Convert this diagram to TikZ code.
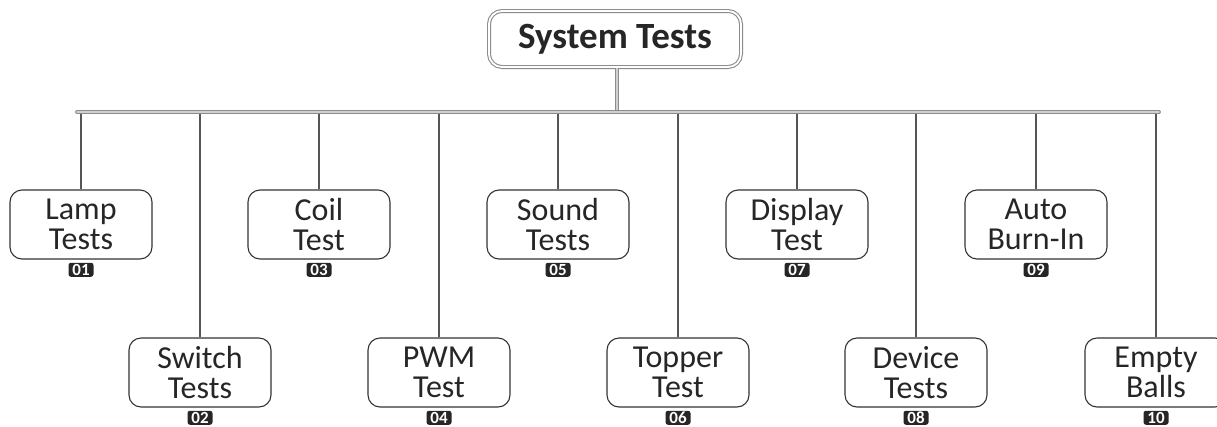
\documentclass[tikz,border=0pt]{standalone}
\usepackage{fontspec}
\setmainfont{Carlito}
\definecolor{boxline}{HTML}{333333}
\definecolor{linkline}{HTML}{555555}
\definecolor{railgray}{HTML}{8C8C8C}
\definecolor{raillight}{HTML}{D0D0D0}
\begin{document}
\begin{tikzpicture}[x=1pt,y=-1pt,
  testbox/.style={draw=boxline, line width=1.1pt, rounded corners=12pt, fill=white,
    minimum width=142pt, minimum height=69pt, inner sep=0pt, align=center,
    text=black!85, font=\fontsize{32}{30}\selectfont},
  badge/.style={fill=black!85, rounded corners=2.5pt, minimum width=25pt, minimum height=14pt,
    inner sep=0pt, text=white, font=\fontsize{17}{17}\selectfont\bfseries},
  headbox/.style={draw=railgray, double=white, line width=1.1pt, double distance=1.8pt,
    rounded corners=13pt, minimum width=252pt, minimum height=56pt, inner sep=0pt,
    text=black!85, font=\fontsize{37}{37}\selectfont\bfseries},
  rail/.style={draw=railgray, double=raillight, line width=1.1pt, double distance=1.6pt, line cap=round},
  link/.style={draw=linkline, line width=1.2pt}]
\useasboundingbox (0,0) rectangle (1217,426);
\clip (0,0) rectangle (1217,426);

% head node
\node[headbox] (head) at (615,39) {System Tests};

% rail end points and drop points
\coordinate (railL) at (77,112);
\coordinate (railR) at (1159,112);
\coordinate (railM) at (617,112);
\foreach \i/\x in {01/81,02/200,03/319,04/439,05/558,06/678,07/797,08/916,09/1036,10/1156}
  \coordinate (r\i) at (\x,112);

% upper row
\node[testbox] (t01) at (81,224.5)   {Lamp\\Tests};
\node[testbox] (t03) at (319,224.5)  {Coil\\Test};
\node[testbox] (t05) at (558,224.5)  {Sound\\Tests};
\node[testbox] (t07) at (797,224.5)  {Display\\Test};
\node[testbox] (t09) at (1036,224.5) {Auto\\Burn-In};

% lower row
\node[testbox] (t02) at (200,372.5)  {Switch\\Tests};
\node[testbox] (t04) at (439,372.5)  {PWM\\Test};
\node[testbox] (t06) at (678,372.5)  {Topper\\Test};
\node[testbox] (t08) at (916,372.5)  {Device\\Tests};
\node[testbox] (t10) at (1156,372.5) {Empty\\Balls};

% number badges
\foreach \i in {01,02,03,04,05,06,07,08,09,10}
  \node[badge, anchor=north] (b\i) at ([yshift=-3pt]t\i.south) {\i};

% drops from the rail to each box
\foreach \i in {01,02,03,04,05,06,07,08,09,10}
  \draw[link] (r\i) -- (t\i.north);

% stem and rail
\draw[rail, line cap=butt] (head.south -| railM) -- (railM);
\draw[rail] (railL) -- (railR);
\end{tikzpicture}
\end{document}
